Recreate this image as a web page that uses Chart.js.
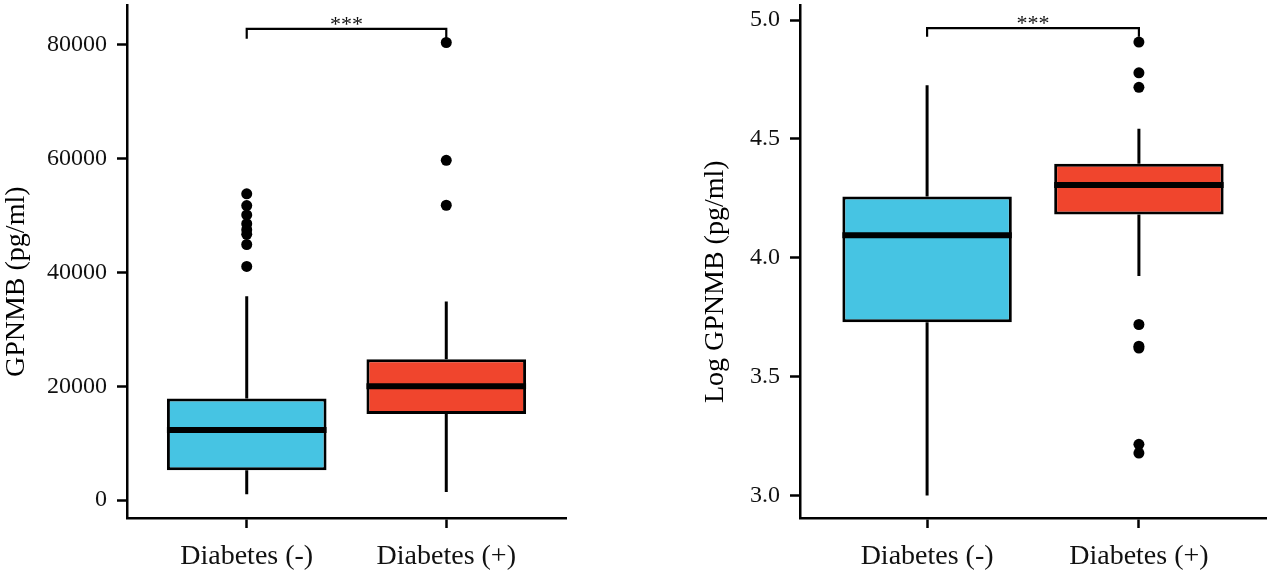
<!DOCTYPE html>
<html>
<head>
<meta charset="utf-8">
<script src="https://cdn.jsdelivr.net/npm/chart.js@4.4.1/dist/chart.umd.min.js"></script>
<style>
    body { margin: 0; background: #fff; }
    #wrap { position: relative; width: 1273px; height: 581px; }
    canvas { position: absolute; top: 0; }
</style>
</head>
<body>
<div id="wrap">
    <canvas id="raw-chart" width="600" height="581" style="left:0px"></canvas>
    <canvas id="log-chart" width="574" height="581" style="left:699px"></canvas>
</div>
<script>
const groups = ["Diabetes (-)", "Diabetes (+)"];
const groupPos = [1, 2];
const boxColors = ["#46C4E3", "#F0452D"];

// GPNMB (pg/ml)
const rawLowerWhisker = [1000, 1400];
const rawQ1 = [5250, 15100];
const rawMedian = [12300, 20000];
const rawQ3 = [17850, 24750];
const rawUpperWhisker = [35800, 34900];
const rawOutliersMinus = [53800, 51750, 50100, 48550, 47500, 46700, 44900, 41050];
const rawOutliersPlus = [80400, 59700, 51800];
const rawTicks = [0, 20000, 40000, 60000, 80000];
const rawBracket = [81050, 82800];

// Log GPNMB (pg/ml)
const logLowerWhisker = [3.0, 3.923];
const logQ1 = [3.728, 4.182];
const logMedian = [4.094, 4.306];
const logQ3 = [4.257, 4.395];
const logUpperWhisker = [4.726, 4.543];
const logOutliersMinus = [];
const logOutliersPlus = [4.907, 4.778, 4.717, 3.719, 3.628, 3.620, 3.215, 3.178];
const logTicks = [3.0, 3.5, 4.0, 4.5, 5.0];
const logBracket = [4.93, 4.966];

Chart.defaults.font.family = "'Liberation Serif', 'Times New Roman', serif";
Chart.defaults.color = "#111";

function buildBoxChart(canvasId, s) {
    const halfBox = 0.4;

    const boxes = groupPos.map((x, i) => ({x: x, y: [s.q1[i], s.q3[i]]}));

    const whiskers = [];
    const medians = [];
    groupPos.forEach((x, i) => {
        whiskers.push({x: x, y: s.lower[i]}, {x: x, y: s.q1[i]}, {x: x, y: null});
        whiskers.push({x: x, y: s.q3[i]}, {x: x, y: s.upper[i]}, {x: x, y: null});
        medians.push({x: x - halfBox, y: s.median[i]}, {x: x + halfBox, y: s.median[i]}, {x: x, y: null});
    });

    const outliers = [];
    s.outliers.forEach((list, g) => {
        list.forEach(v => outliers.push({x: groupPos[g], y: v}));
    });

    const bracket = [
        {x: groupPos[0], y: s.bracket[0]},
        {x: groupPos[0], y: s.bracket[1]},
        {x: groupPos[1], y: s.bracket[1]},
        {x: groupPos[1], y: s.bracket[0]}
    ];

    // significance stars and the y axis title
    const annotate = {
        id: "annotate",
        afterDraw(chart) {
            const ctx = chart.ctx;
            const xs = chart.scales.x;
            const ys = chart.scales.y;
            ctx.save();
            ctx.fillStyle = "#111";
            ctx.font = "22px 'Liberation Serif'";
            ctx.textAlign = "center";
            ctx.textBaseline = "alphabetic";
            ctx.fillText("***", xs.getPixelForValue((groupPos[0] + groupPos[1]) / 2), ys.getPixelForValue(s.bracket[1]) + 2);

            ctx.fillStyle = "#000";
            ctx.font = "28px 'Liberation Serif'";
            ctx.textBaseline = "middle";
            ctx.translate(17, (chart.chartArea.top + chart.chartArea.bottom) / 2 + 20);
            ctx.rotate(-Math.PI / 2);
            ctx.fillText(s.title, 0, 0);
            ctx.restore();
        }
    };

    return new Chart(document.getElementById(canvasId), {
        type: "bar",
        data: {
            datasets: [{
                type: "line",
                data: medians,
                borderColor: "#000",
                borderWidth: 6,
                borderCapStyle: "butt",
                pointRadius: 0,
                order: 0
            }, {
                type: "bar",
                data: boxes,
                backgroundColor: boxColors,
                borderColor: "#000",
                borderWidth: 3,
                borderSkipped: false,
                categoryPercentage: 1,
                barPercentage: 0.8,
                order: 1
            }, {
                type: "line",
                data: whiskers,
                borderColor: "#000",
                borderWidth: 3,
                borderCapStyle: "butt",
                pointRadius: 0,
                order: 2
            }, {
                type: "scatter",
                data: outliers,
                backgroundColor: "#000",
                borderWidth: 0,
                pointRadius: 5.5,
                order: 0
            }, {
                type: "line",
                data: bracket,
                borderColor: "#000",
                borderWidth: 2.2,
                borderJoinStyle: "miter",
                pointRadius: 0,
                order: 0
            }]
        },
        options: {
            responsive: false,
            animation: false,
            layout: {padding: {top: 5, right: s.padRight, left: 0, bottom: 0}},
            plugins: {
                legend: {display: false},
                tooltip: {enabled: false}
            },
            scales: {
                x: {
                    type: "linear",
                    min: 0.4,
                    max: 2.6,
                    offset: false,
                    afterBuildTicks: sc => { sc.ticks = groupPos.map(v => ({value: v})); },
                    afterFit: sc => {
                        sc.height = 63;
                        sc.paddingLeft = 0;
                        sc.paddingRight = 0;
                    },
                    ticks: {
                        callback: (v, i) => groups[i],
                        autoSkip: false,
                        maxRotation: 0,
                        padding: 12,
                        font: {size: 28},
                        color: "#111"
                    },
                    grid: {
                        offset: false,
                        drawOnChartArea: false,
                        drawTicks: true,
                        tickLength: 10,
                        tickWidth: 2.5,
                        tickColor: "#000"
                    },
                    border: {display: true, color: "#000", width: 2.5}
                },
                y: {
                    type: "linear",
                    min: s.yMin,
                    max: s.yMax,
                    afterBuildTicks: sc => { sc.ticks = s.ticks.map(v => ({value: v})); },
                    afterFit: sc => {
                        sc.width = s.axisWidth;
                        sc.paddingTop = 0;
                        sc.paddingBottom = 0;
                    },
                    ticks: {
                        callback: v => s.format(v),
                        padding: 10,
                        font: {size: 24},
                        color: "#111"
                    },
                    grid: {
                        drawOnChartArea: false,
                        drawTicks: true,
                        tickLength: 10,
                        tickWidth: 2.5,
                        tickColor: "#000"
                    },
                    border: {display: true, color: "#000", width: 2.5}
                }
            }
        },
        plugins: [annotate]
    });
}

buildBoxChart("raw-chart", {
    lower: rawLowerWhisker, q1: rawQ1, median: rawMedian, q3: rawQ3, upper: rawUpperWhisker,
    outliers: [rawOutliersMinus, rawOutliersPlus],
    bracket: rawBracket,
    ticks: rawTicks,
    format: v => String(v),
    title: "GPNMB (pg/ml)",
    yMin: -3160, yMax: 86900,
    axisWidth: 127, padRight: 34
});

buildBoxChart("log-chart", {
    lower: logLowerWhisker, q1: logQ1, median: logMedian, q3: logQ3, upper: logUpperWhisker,
    outliers: [logOutliersMinus, logOutliersPlus],
    bracket: logBracket,
    ticks: logTicks,
    format: v => v.toFixed(1),
    title: "Log GPNMB (pg/ml)",
    yMin: 2.905, yMax: 5.061,
    axisWidth: 101, padRight: 7
});
</script>
</body>
</html>
